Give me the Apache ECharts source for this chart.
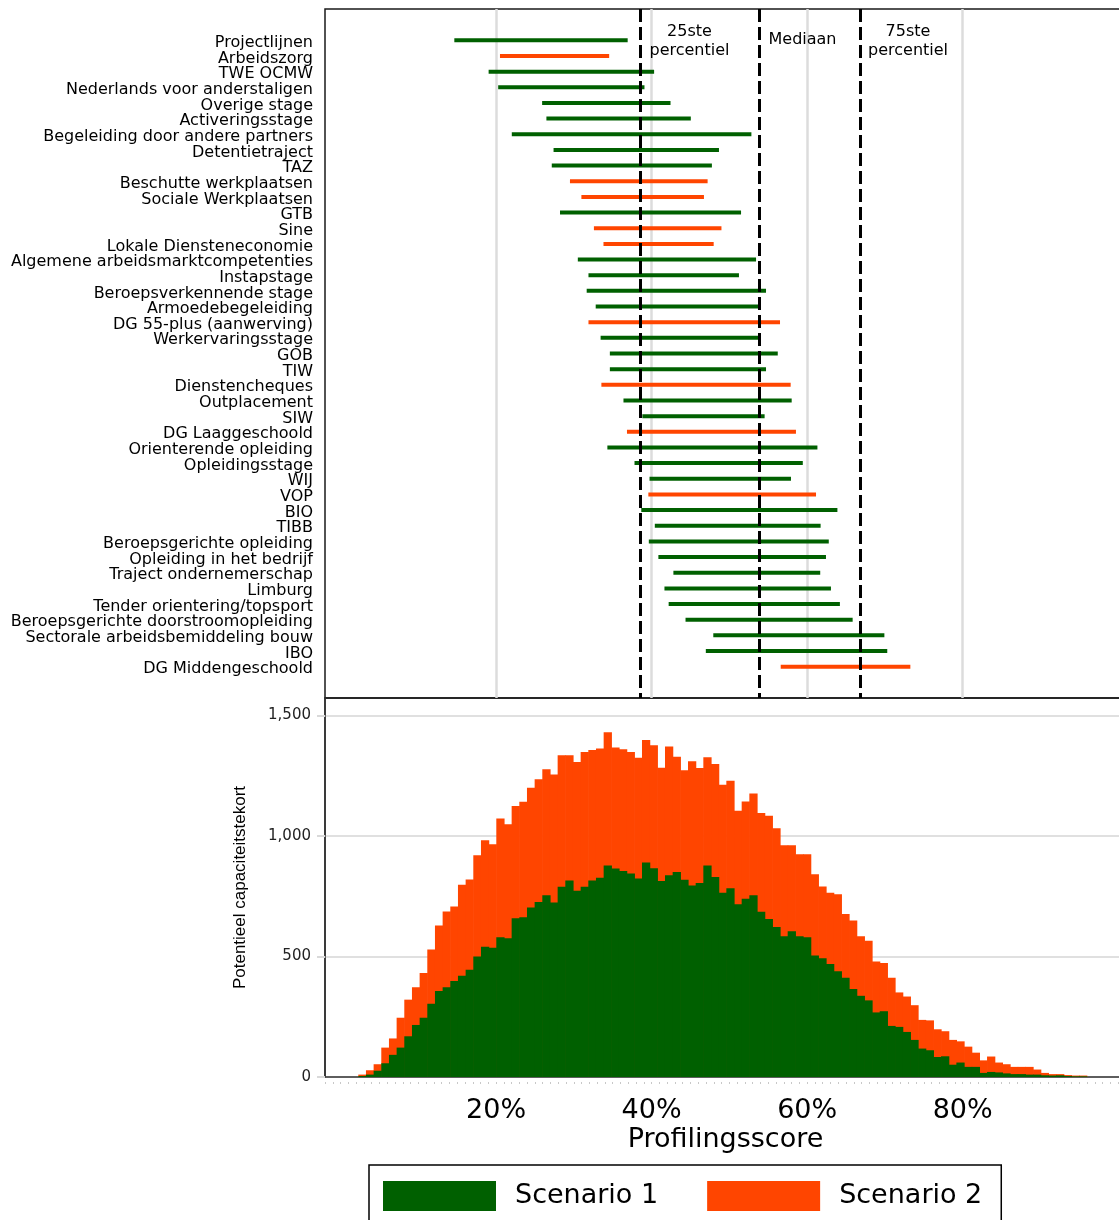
<!DOCTYPE html>
<html><head><meta charset="utf-8">
<script src="https://cdn.jsdelivr.net/npm/echarts@6/dist/echarts.min.js"></script>
<style>html,body{margin:0;padding:0;background:#fff}#chart{width:1119px;height:1220px}</style>
</head><body><div id="chart"></div>
<script>
// ---- data ----
const categories = ['Projectlijnen','Arbeidszorg','TWE OCMW','Nederlands voor anderstaligen','Overige stage','Activeringsstage','Begeleiding door andere partners','Detentietraject','TAZ','Beschutte werkplaatsen','Sociale Werkplaatsen','GTB','Sine','Lokale Diensteneconomie','Algemene arbeidsmarktcompetenties','Instapstage','Beroepsverkennende stage','Armoedebegeleiding','DG 55-plus (aanwerving)','Werkervaringsstage','GOB','TIW','Dienstencheques','Outplacement','SIW','DG Laaggeschoold','Orienterende opleiding','Opleidingsstage','WIJ','VOP','BIO','TIBB','Beroepsgerichte opleiding','Opleiding in het bedrijf','Traject ondernemerschap','Limburg','Tender orientering/topsport','Beroepsgerichte doorstroomopleiding','Sectorale arbeidsbemiddeling bouw','IBO','DG Middengeschoold'];
const segStart = [14.63,20.50,19.04,20.27,25.92,26.47,22.02,27.39,27.16,29.50,30.97,28.22,32.58,33.81,30.51,31.88,31.65,32.81,31.88,33.44,34.63,34.63,33.54,36.38,38.81,36.83,34.31,37.80,39.73,39.58,38.67,40.41,39.64,40.87,42.80,41.65,42.19,44.36,47.93,46.97,56.60];
const segEnd   = [36.92,34.54,40.32,39.08,42.43,45.04,52.83,48.66,47.75,47.20,46.73,51.50,48.98,47.98,53.43,51.23,54.71,53.75,56.51,53.78,56.22,54.71,57.88,58.01,54.53,58.56,61.32,59.44,57.92,61.14,63.89,61.73,62.78,62.42,61.68,63.06,64.21,65.85,69.93,70.30,73.27];
const segScenario = [1,2,1,1,1,1,1,1,1,2,2,1,2,2,1,1,1,1,2,1,1,1,2,1,1,2,1,1,1,2,1,1,1,1,1,1,1,1,1,1,2];
const percentileValues = [38.6, 53.8, 66.8];
const percentileLabels = ['25ste\npercentiel', 'Mediaan', '75ste\npercentiel'];
const xTickValues = [20, 40, 60, 80];
const yTickValues = [0, 500, 1000, 1500];
const seriesNames = ['Scenario 1', 'Scenario 2'];
const scenario1Counts = [4,10,26,57,92,122,169,216,246,304,357,372,398,420,445,500,541,536,580,576,659,663,704,726,754,724,790,816,773,790,816,827,878,865,855,845,824,890,866,813,837,851,819,795,805,878,830,765,783,717,740,754,686,656,623,584,605,584,580,504,493,469,439,412,365,337,318,268,273,212,208,187,154,118,111,83,86,51,60,42,42,17,21,19,15,12,12,10,10,7,6,7,4,3,3];
const scenario2Counts = [10,28,53,122,160,246,321,372,432,529,629,687,708,798,820,920,983,966,1073,1049,1125,1142,1200,1236,1277,1256,1335,1335,1307,1349,1357,1363,1431,1368,1360,1349,1325,1399,1377,1284,1372,1329,1273,1310,1282,1327,1299,1213,1230,1105,1143,1177,1096,1084,1032,962,962,924,924,841,791,765,758,677,650,584,565,479,473,412,351,334,298,237,235,198,190,154,148,126,101,69,85,60,53,42,42,42,31,17,12,12,8,6,6];
const binStart = 2.28, binWidth = 0.986;

// ---- chart ----
const GREEN = '#006000', ORANGE = '#ff4500';
const FONT = 'DejaVu Sans';
const chart = echarts.init(document.getElementById('chart'), null, {renderer: 'canvas'});

function histItem(params, api) {
  const l = api.value(0), r = api.value(1), v = api.value(2);
  const p0 = api.coord([l, 0]);
  const p1 = api.coord([r, v]);
  return {type: 'rect', shape: {x: p0[0], y: p1[1], width: p1[0] - p0[0] + 0.6, height: p0[1] - p1[1]},
          style: {fill: api.visual('color')}};
}
function histData(arr) {
  return arr.map((v, i) => [binStart + i * binWidth, binStart + (i + 1) * binWidth, v]);
}

const option = {
  animation: false,
  grid: [
    {left: 325, width: 801, top: 9, height: 689, show: true, borderColor: '#1a1a1a', borderWidth: 1.5,
     backgroundColor: 'transparent', containLabel: false, outerBoundsMode: 'none'},
    {left: 325, width: 801, top: 698, height: 379, show: true, borderColor: '#1a1a1a', borderWidth: 1.5,
     backgroundColor: 'transparent', containLabel: false, outerBoundsMode: 'none'}
  ],
  xAxis: [
    {type: 'value', gridIndex: 0, min: -2, max: 101,
     axisLine: {show: false}, axisLabel: {show: false, customValues: xTickValues},
     axisTick: {show: false, customValues: xTickValues},
     splitLine: {show: true, lineStyle: {color: '#dcdcdc', width: 2.5}}},
    {type: 'value', gridIndex: 1, min: -2, max: 101,
     axisLine: {show: true, onZero: false, lineStyle: {color: '#333', width: 1.5}},
     axisTick: {show: false, customValues: xTickValues},
     axisLabel: {customValues: xTickValues, formatter: v => v + '%', fontSize: 27, fontFamily: FONT, color: '#000', margin: 20},
     splitLine: {show: false},
     name: 'Profilingsscore', nameLocation: 'middle', nameGap: 49,
     nameTextStyle: {fontSize: 27, fontFamily: FONT, color: '#000'}},
    {type: 'value', gridIndex: 1, min: -2, max: 101, interval: 1, position: 'bottom', offset: 5,
     axisLine: {show: false, onZero: false}, axisLabel: {show: false}, splitLine: {show: false},
     axisTick: {show: true, length: 2, lineStyle: {color: '#c8c8c8', width: 1}}}
  ],
  yAxis: [
    {type: 'value', gridIndex: 0, inverse: true, min: -1, max: 43, interval: 1,
     axisLine: {show: false, onZero: false}, axisTick: {show: false}, splitLine: {show: false},
     axisLabel: {formatter: v => { const k = Math.round(v); return (k >= 1 && k <= categories.length) ? '{n|' + categories[k - 1] + '}' : ''; },
                 fontSize: 16, fontFamily: FONT, color: '#000', margin: 12,
                 rich: {n: {fontSize: 16, fontFamily: FONT, color: '#000', padding: [5, 0, 0, 0]}}}},
    {type: 'value', gridIndex: 1, min: 0, max: 1573,
     axisLine: {show: true, onZero: false, lineStyle: {color: '#333', width: 1.5}},
     axisTick: {show: true, length: 8, customValues: yTickValues, lineStyle: {color: '#d9d9d9', width: 2}},
     axisLabel: {customValues: yTickValues, formatter: v => v.toLocaleString('en-US'), fontSize: 15, fontFamily: FONT, color: '#222', margin: 14},
     splitLine: {show: true, lineStyle: {color: '#e0e0e0', width: 2}},
     name: 'Potentieel capaciteitstekort', nameLocation: 'middle', nameGap: 76,
     nameTextStyle: {fontSize: 17, fontFamily: 'Liberation Sans', color: '#000'}}
  ],
  legend: {
    data: seriesNames, left: 369, top: 1165, orient: 'horizontal', icon: 'rect',
    itemWidth: 113, itemHeight: 30, itemGap: 49, padding: [16, 19, 16, 14],
    borderColor: '#000', borderWidth: 1.5, selectedMode: false,
    textStyle: {fontSize: 27, fontFamily: FONT, color: '#000', padding: [0, 0, 0, 14]}
  },
  series: [
    {type: 'custom', name: 'segments', xAxisIndex: 0, yAxisIndex: 0, silent: true,
     data: categories.map((c, i) => [segStart[i], segEnd[i], i + 1, segScenario[i]]),
     encode: {x: [0, 1], y: 2},
     renderItem: function (params, api) {
       const a = api.coord([api.value(0), api.value(2)]);
       const b = api.coord([api.value(1), api.value(2)]);
       return {type: 'line', shape: {x1: a[0], y1: a[1], x2: b[0], y2: b[1]},
               style: {stroke: api.value(3) === 2 ? ORANGE : GREEN, lineWidth: 4, lineCap: 'butt'}};
     }},
    {type: 'scatter', name: 'percentiles', xAxisIndex: 0, yAxisIndex: 0, silent: true, symbolSize: 0,
     itemStyle: {opacity: 1},
     data: [[44.87, 1.05, 0], [59.4, 1.0, 1], [72.97, 1.05, 2]],
     label: {show: true, position: 'inside', formatter: p => percentileLabels[p.value[2]],
             fontSize: 16, lineHeight: 19, fontFamily: FONT, color: '#000', opacity: 1, align: 'center'},
     markLine: {silent: true, symbol: ['none', 'none'], label: {show: false},
                lineStyle: {color: '#000', type: [13, 5], width: 3},
                data: percentileValues.map(v => ({xAxis: v}))}},
    {type: 'custom', name: seriesNames[1], xAxisIndex: 1, yAxisIndex: 1, silent: true,
     itemStyle: {color: ORANGE}, data: histData(scenario2Counts), encode: {x: [0, 1], y: 2},
     renderItem: histItem},
    {type: 'custom', name: seriesNames[0], xAxisIndex: 1, yAxisIndex: 1, silent: true,
     itemStyle: {color: GREEN}, data: histData(scenario1Counts), encode: {x: [0, 1], y: 2},
     renderItem: histItem}
  ]
};
chart.setOption(option);
</script></body></html>
